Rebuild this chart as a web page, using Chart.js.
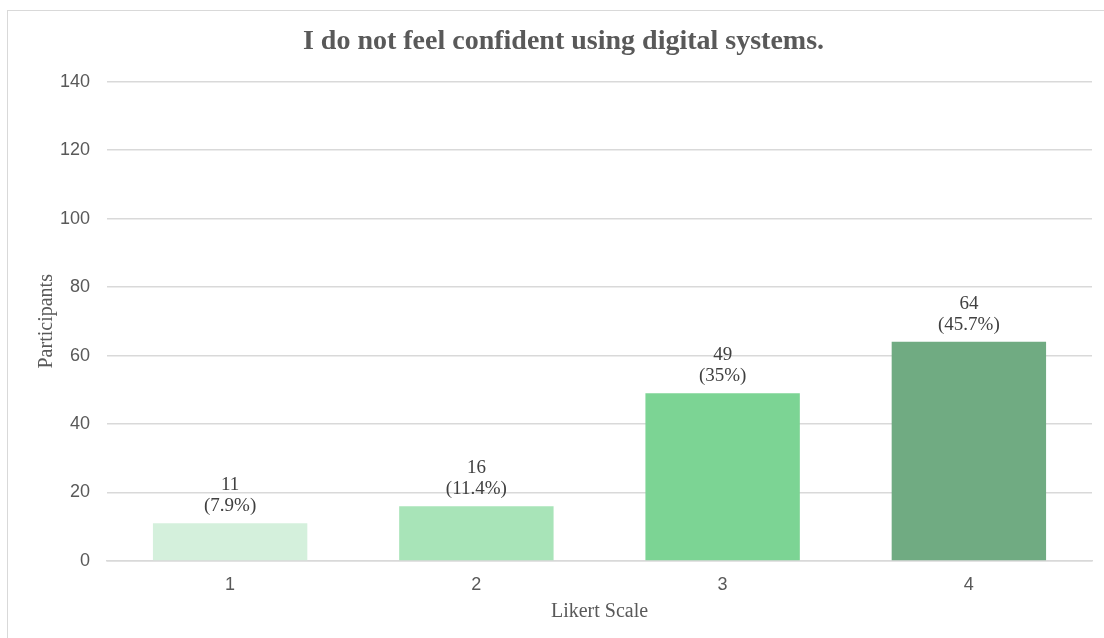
<!DOCTYPE html>
<html>
<head>
<meta charset="utf-8">
<script src="https://cdn.jsdelivr.net/npm/chart.js@4.4.0/dist/chart.umd.min.js"></script>
<style>
  html, body { margin: 0; padding: 0; background: #fff; }
  #wrap { position: relative; width: 1104px; height: 638px; overflow: hidden; }
  #frame { position: absolute; left: 7px; top: 10px; width: 1200px; height: 700px; border: 1.5px solid #d9d9d9; box-sizing: border-box; }
  canvas { position: absolute; left: 0; top: 0; }
</style>
</head>
<body>
<div id="wrap">
  <div id="frame"></div>
  <canvas id="likert" width="1104" height="638"></canvas>
</div>
<script>
const categories = ['1', '2', '3', '4'];
const participants = [11, 16, 49, 64];
const percent_labels = ['(7.9%)', '(11.4%)', '(35%)', '(45.7%)'];
const bar_colors = ['#d4f0dc', '#a8e4b8', '#7cd494', '#70ab82'];
const y_ticks = [0, 20, 40, 60, 80, 100, 120, 140];

const serif = "'Liberation Serif', 'Times New Roman', serif";
const sans = "'Liberation Sans', Arial, Helvetica, sans-serif";

// draws "value" and "(percent)" on two lines above each bar
const barLabels = {
    id: 'barLabels',
    afterDatasetsDraw(chart) {
        const ctx = chart.ctx;
        const meta = chart.getDatasetMeta(0);
        ctx.save();
        ctx.font = '19px ' + serif;
        ctx.fillStyle = '#404040';
        ctx.textAlign = 'center';
        ctx.textBaseline = 'alphabetic';
        meta.data.forEach((bar, i) => {
            ctx.fillText(String(participants[i]), bar.x, bar.y - 33);
            ctx.fillText(percent_labels[i], bar.x, bar.y - 12);
        });
        ctx.restore();
    }
};

new Chart(document.getElementById('likert'), {
    type: 'bar',
    data: {
        labels: categories,
        datasets: [{
            label: 'Participants',
            data: participants,
            backgroundColor: bar_colors,
            borderWidth: 0,
            barPercentage: 0.627,
            categoryPercentage: 1.0
        }]
    },
    options: {
        responsive: false,
        animation: false,
        layout: {
            padding: { top: 25, right: 12, bottom: 18, left: 35 }
        },
        plugins: {
            legend: { display: false },
            tooltip: { enabled: false },
            title: {
                display: true,
                text: 'I do not feel confident using digital systems.',
                color: '#595959',
                font: { family: serif, size: 28, weight: 'bold' },
                padding: { top: 0, bottom: 23 }
            }
        },
        scales: {
            x: {
                afterFit: (axis) => { axis.height = 59; },
                grid: { display: false, drawTicks: false },
                border: { display: true, color: '#d9d9d9', width: 1.5 },
                ticks: {
                    color: '#595959',
                    font: { family: sans, size: 18 },
                    padding: 13
                },
                title: {
                    display: true,
                    text: 'Likert Scale',
                    color: '#595959',
                    font: { family: serif, size: 20 },
                    padding: { top: 4, bottom: -4 }
                }
            },
            y: {
                min: 0,
                max: 140,
                afterBuildTicks: (axis) => {
                    axis.ticks = y_ticks.map(v => ({ value: v }));
                },
                afterFit: (axis) => { axis.width = 72; },
                grid: { color: '#d9d9d9', lineWidth: 1.5, drawTicks: false },
                border: { display: false },
                ticks: {
                    color: '#595959',
                    font: { family: sans, size: 18 },
                    padding: 17
                },
                title: {
                    display: true,
                    text: 'Participants',
                    color: '#595959',
                    font: { family: serif, size: 20 },
                    padding: { top: 0, bottom: 4 }
                }
            }
        }
    },
    plugins: [barLabels]
});
</script>
</body>
</html>
